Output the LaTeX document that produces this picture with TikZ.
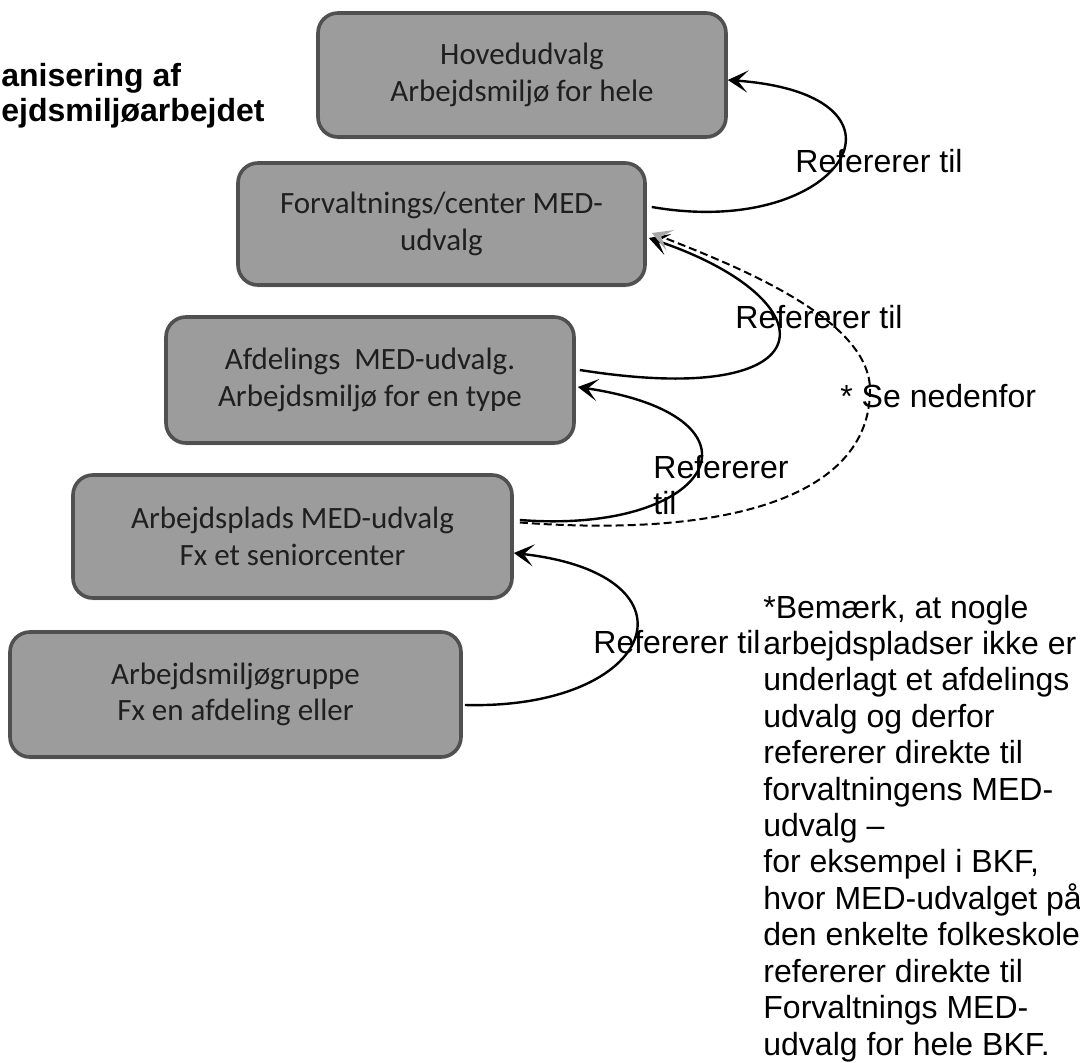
\documentclass[tikz,border=0pt]{standalone}
\usepackage{fontspec}
\setmainfont{Liberation Sans}
\newfontfamily\boxfont{Carlito}
\usetikzlibrary{arrows.meta,shadows}
\definecolor{boxfill}{HTML}{9C9C9C}
\definecolor{boxline}{HTML}{505050}
\definecolor{tipgray}{HTML}{A8A8A8}
\begin{document}
\begin{tikzpicture}[x=0.5pt,y=-0.5pt,
  box/.style={draw=boxline, line width=1.8pt, fill=boxfill, rounded corners=10pt,
    inner sep=0pt, align=center, text=black!88,
    font=\boxfont\fontsize{15.5}{18.35}\selectfont,
    drop shadow={shadow xshift=0pt, shadow yshift=-1.2pt, opacity=.25}},
  lbl/.style={anchor=base west, inner sep=0pt, font=\fontsize{16}{18.2}\selectfont},
  ref/.style={line width=1.2pt, -{Stealth[length=10pt,width=11pt,inset=5pt]}},
  refdash/.style={line width=1pt, dash pattern=on 4pt off 2pt,
    -{Stealth[length=10pt,width=11pt,inset=5pt,color=tipgray]}}
]
\useasboundingbox (0,0) rectangle (1080,1063);

% title (cut at the left edge)
\node[anchor=base west, inner sep=0pt, font=\bfseries\fontsize{16}{17.5}\selectfont] (title) at (1,87)
  {\begin{tabular}[t]{@{}l@{}}anisering af\\ejdsmiljøarbejdet\end{tabular}};

% boxes
\node[box, minimum width=204pt, minimum height=62pt] (b1) at (522,75)
  {Hovedudvalg\\Arbejdsmiljø for hele};
\node[box, minimum width=203.5pt, minimum height=61pt] (b2) at (441.5,224)
  {Forvaltnings/center MED-\\udvalg};
\node[box, minimum width=204pt, minimum height=63pt] (b3) at (370,380)
  {Afdelings\ \ MED-udvalg.\\Arbejdsmiljø for en type};
\node[box, minimum width=219.5pt, minimum height=61.5pt] (b4) at (292.5,536.5)
  {Arbejdsplads MED-udvalg\\Fx et seniorcenter};
\node[box, minimum width=225.5pt, minimum height=62.5pt] (b5) at (235.5,694.5)
  {Arbejdsmiljøgruppe\\Fx en afdeling eller};

% labels
\node[lbl] (l1) at (795,172.7) {Refererer til};
\node[lbl] (l2) at (735,329) {Refererer til};
\node[lbl] (l3) at (653,478) {\begin{tabular}[t]{@{}l@{}}Refererer\\til\end{tabular}};
\node[lbl] (l4) at (593,653) {Refererer til};
\node[lbl] (se) at (840,408) {* Se nedenfor};
\node[lbl] (note) at (763,618) {\begin{tabular}[t]{@{}l@{}}*Bemærk, at nogle\\
arbejdspladser ikke er\\
underlagt et afdelings\\
udvalg og derfor\\
refererer direkte til\\
forvaltningens MED-\\
udvalg –\\
for eksempel i BKF,\\
hvor MED-udvalget på\\
den enkelte folkeskole\\
refererer direkte til\\
Forvaltnings MED-\\
udvalg for hele BKF.\end{tabular}};

% connectors
\draw[ref] ([shift={(5,-17)}]b2.east) .. controls +(190,33) and +(204,15) .. ([shift={(0,5)}]b1.east);
\draw[ref] ([shift={(4,-10)}]b3.east) .. controls +(252,40) and +(183,62) .. ([shift={(2,14)}]b2.east);
\draw[ref] ([shift={(6,-16.5)}]b4.east) .. controls +(195,15) and +(200,30) .. ([shift={(2,7)}]b3.east);
\coordinate (dmid) at (870,390);
\draw[refdash] ([shift={(6,-14)}]b4.east) .. controls +(200,15) and +(0,110) .. (dmid)
  .. controls +(0,-70) and +(90,35) .. ([shift={(5,9)}]b2.east);
\draw[ref] ([shift={(2,10.5)}]b5.east) .. controls +(192,5) and +(193,22) .. ([shift={(0,16.5)}]b4.east);
\end{tikzpicture}
\end{document}
